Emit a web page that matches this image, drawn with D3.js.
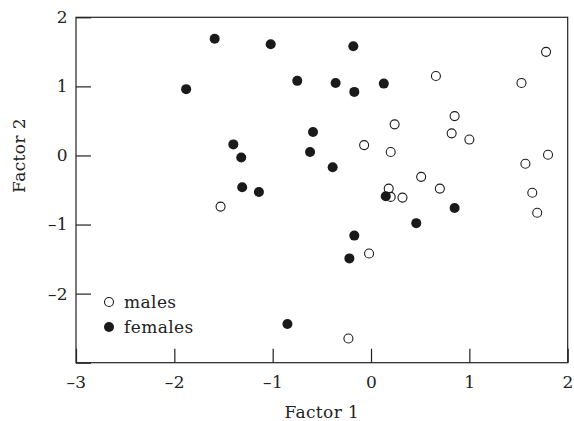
<!DOCTYPE html>
<meta charset="utf-8">
<title>Factor scores</title>
<style>
  body { margin:0; padding:0; background:#fff; }
  text { font-family: 'DejaVu Serif', serif; fill:#222; letter-spacing: 0.4px; }
</style>
<body>
<div id="chart"></div>
<script src="https://cdn.jsdelivr.net/npm/d3@7"></script>
<script>

var width = 574, height = 421;

// factor scores
var malesF1   = [1.78, 0.66, 1.53, 0.85, 0.24, 0.82, 1.00, -0.07, 0.20, 1.80, 1.57, 0.51, 0.70, 0.18, 0.20, 0.32, 1.64, 1.69, -1.53, -0.02, -0.23];
var malesF2   = [1.50, 1.15, 1.05, 0.57, 0.45, 0.32, 0.23, 0.15, 0.05, 0.01, -0.12, -0.31, -0.48, -0.48, -0.60, -0.61, -0.54, -0.83, -0.74, -1.42, -2.65];
var femalesF1 = [-1.59, -1.02, -0.18, -1.88, -0.75, -0.36, -0.17, 0.13, -0.59, -1.40, -1.32, -0.62, -0.39, -1.31, -1.14, 0.15, 0.85, 0.46, -0.17, -0.22, -0.85];
var femalesF2 = [1.69, 1.61, 1.58, 0.96, 1.08, 1.05, 0.92, 1.04, 0.34, 0.16, -0.03, 0.05, -0.17, -0.46, -0.53, -0.59, -0.76, -0.98, -1.16, -1.49, -2.44];
var xTicks = [-3, -2, -1, 0, 1, 2];
var yTicks = [-3, -2, -1, 0, 1, 2];
var legendLabels = ["males", "females"];

var plotL = 76, plotR = 567.7, plotT = 17.3, plotB = 362.7;
var fs = "17px";

var x = d3.scaleLinear().domain([-3, 2]).range([plotL, plotR]);
var y = d3.scaleLinear().domain([-3, 2]).range([plotB, plotT]);

var svg = d3.select("#chart").append("svg")
    .attr("width", width).attr("height", height);

// frame
svg.append("rect")
  .attr("x", plotL).attr("y", plotT)
  .attr("width", plotR - plotL).attr("height", plotB - plotT)
  .attr("fill", "none").attr("stroke", "#222").attr("stroke-width", 1.2);

function fmt(d) { return d < 0 ? "\u2013" + (-d) : d; }

// axes with inward ticks
var xAxis = d3.axisBottom(x).tickValues(xTicks).tickSizeInner(-14).tickSizeOuter(0)
    .tickPadding(13).tickFormat(fmt);
var yAxis = d3.axisLeft(y).tickValues(yTicks).tickSizeInner(-15).tickSizeOuter(0)
    .tickPadding(8).tickFormat(function(d) { return d == -3 ? "" : fmt(d); });

var gx = svg.append("g").attr("transform", "translate(0," + plotB + ")").call(xAxis);
var gy = svg.append("g").attr("transform", "translate(" + plotL + ",0)").call(yAxis);

[gx, gy].forEach(function(g) {
  g.select(".domain").remove();
  g.selectAll(".tick line").attr("stroke", "#222").attr("stroke-width", 1.2);
  g.selectAll(".tick text").style("font-size", fs).attr("fill", "#222");
});

// axis titles
svg.append("text")
  .attr("x", (plotL + plotR) / 2).attr("y", 418)
  .attr("text-anchor", "middle").style("font-size", fs)
  .text("Factor 1");

svg.append("text")
  .attr("transform", "translate(25," + y(0) + ") rotate(-90)")
  .attr("text-anchor", "middle").style("font-size", fs)
  .text("Factor 2");

// points
var r = 5;
svg.append("g").selectAll("circle")
  .data(femalesF1.map(function(d, i) { return [d, femalesF2[i]]; }))
  .enter().append("circle")
  .attr("cx", function(d) { return x(d[0]); })
  .attr("cy", function(d) { return y(d[1]); })
  .attr("r", r)
  .attr("fill", "#1a1a1a");

svg.append("g").selectAll("circle")
  .data(malesF1.map(function(d, i) { return [d, malesF2[i]]; }))
  .enter().append("circle")
  .attr("cx", function(d) { return x(d[0]); })
  .attr("cy", function(d) { return y(d[1]); })
  .attr("r", r - 0.5)
  .attr("fill", "none")
  .attr("stroke", "#1a1a1a")
  .attr("stroke-width", 1.1);

// legend
var legend = svg.append("g");
legendLabels.forEach(function(lab, i) {
  var ly = 302 + i * 25;
  var c = legend.append("circle").attr("cx", 109).attr("cy", ly).attr("r", i ? r : r - 0.5);
  if (i) c.attr("fill", "#1a1a1a");
  else c.attr("fill", "none").attr("stroke", "#1a1a1a").attr("stroke-width", 1.1);
  legend.append("text").attr("x", 124).attr("y", ly + 6)
    .style("font-size", fs).text(lab);
});

</script>
</body>
